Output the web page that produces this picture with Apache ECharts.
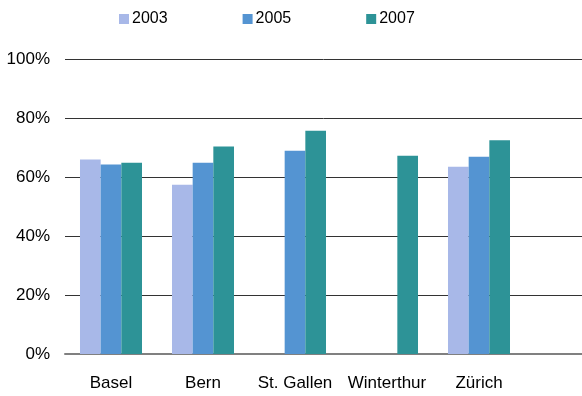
<!DOCTYPE html>
<html>
<head>
<meta charset="utf-8">
<script src="https://cdn.jsdelivr.net/npm/echarts@6/dist/echarts.min.js"></script>
<style>
  html, body { margin: 0; padding: 0; background: #fff; }
  #container { width: 582px; height: 396px; }
</style>
</head>
<body>
<div id="container"></div>
<script>
  // data
  const categories = ['Basel', 'Bern', 'St. Gallen', 'Winterthur', 'Zürich']
  const years = ['2003', '2005', '2007']
  const values2003 = [65.9, 57.4, null, null, 63.5]
  const values2005 = [64.2, 64.8, 68.9, null, 66.9]
  const values2007 = [64.8, 70.3, 75.7, 67.2, 72.5]
  const yTicks = [0, 20, 40, 60, 80, 100]

  const colors = ['#a8b8e8', '#5494d2', '#2d9397']
  const font = 'Liberation Sans, Arial, sans-serif'

  const chart = echarts.init(document.getElementById('container'))

  const option = {
    animation: false,
    color: colors,
    legend: {
      data: years,
      left: 114,
      top: 6,
      itemWidth: 10,
      itemHeight: 10,
      itemGap: 75,
      icon: 'rect',
      textStyle: { fontFamily: font, fontSize: 16, color: '#000', padding: [0, 0, 0, -2] }
    },
    // grid 0: gridlines over the full width, grid 1: the bars
    grid: [
      { left: 65, right: 0, top: 59, bottom: 42 },
      { left: 65, width: 460, top: 59, bottom: 42 }
    ],
    xAxis: [
      {
        gridIndex: 0,
        type: 'category',
        data: [''],
        axisLine: { lineStyle: { color: '#808080', width: 2 } },
        axisTick: { show: false },
        axisLabel: { show: false }
      },
      {
        gridIndex: 1,
        type: 'category',
        data: categories,
        axisLine: { show: false },
        axisTick: { show: false },
        axisLabel: { fontFamily: font, fontSize: 17, color: '#000', margin: 21, interval: 0 }
      }
    ],
    yAxis: [
      {
        gridIndex: 0,
        type: 'value',
        min: yTicks[0],
        max: yTicks[yTicks.length - 1],
        interval: 20,
        axisLine: { show: false },
        axisTick: { show: false },
        splitLine: { lineStyle: { color: '#333', width: 1 } },
        axisLabel: { fontFamily: font, fontSize: 17, color: '#000', margin: 15, formatter: '{value}%' }
      },
      {
        gridIndex: 1,
        type: 'value',
        min: 0,
        max: 100,
        show: false,
        splitLine: { show: false }
      }
    ],
    series: [
      { name: years[0], type: 'bar', xAxisIndex: 1, yAxisIndex: 1, data: values2003, barGap: 0, barCategoryGap: '32.6%' },
      { name: years[1], type: 'bar', xAxisIndex: 1, yAxisIndex: 1, data: values2005, barGap: 0, barCategoryGap: '32.6%' },
      { name: years[2], type: 'bar', xAxisIndex: 1, yAxisIndex: 1, data: values2007, barGap: 0, barCategoryGap: '32.6%' }
    ]
  }

  chart.setOption(option)
</script>
</body>
</html>
